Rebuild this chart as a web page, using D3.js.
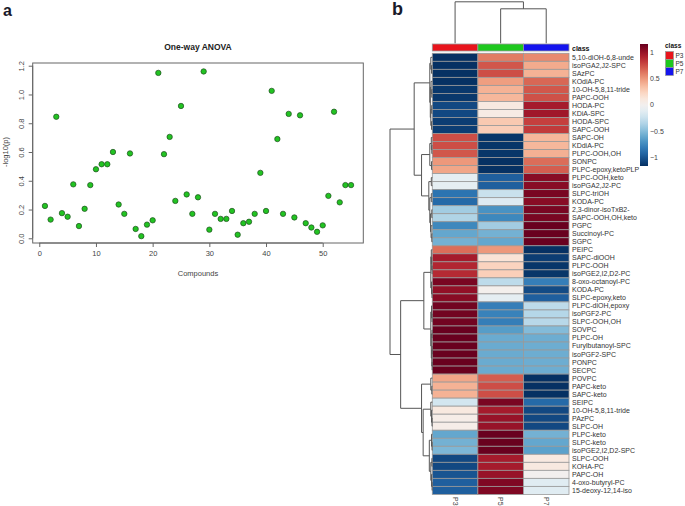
<!DOCTYPE html>
<html lang="en">
<head>
<meta charset="UTF-8">
<title>ANOVA and heatmap</title>
<script src="https://d3js.org/d3.v7.min.js"></script>
<style>
body { margin: 0; background: #fff; }
svg text { font-family: "Liberation Sans", Arial, sans-serif; fill: #333; }
</style>
</head>
<body>
<div id="container"></div>
<script>
// ---- data ----
// -log10(p) for compounds 1..55
const anovaP = [0.225, 0.13, 0.845, 0.175, 0.15, 0.375, 0.085, 0.205, 0.37, 0.48,
  0.515, 0.515, 0.60, 0.235, 0.17, 0.59, 0.065, 0.015, 0.095, 0.125,
  1.15, 0.585, 0.705, 0.26, 0.92, 0.305, 0.17, 0.285, 1.16, 0.06,
  0.17, 0.135, 0.135, 0.19, 0.025, 0.105, 0.115, 0.17, 0.455, 0.19,
  1.025, 0.69, 0.17, 0.865, 0.145, 0.855, 0.105, 0.075, 0.045, 0.09,
  0.295, 0.88, 0.25, 0.37, 0.37];
const xTicks = [0, 10, 20, 30, 40, 50];
const yTicks = [0, 0.2, 0.4, 0.6, 0.8, 1.0, 1.2];

const rowNames = ["5,10-diOH-6,8-unde", "isoPGA2,J2-SPC", "SAzPC", "KOdiA-PC", "10-OH-5,8,11-tride",
  "PAPC-OOH", "HODA-PC", "KDiA-SPC", "HODA-SPC", "SAPC-OOH",
  "SAPC-OH", "KDdiA-PC", "PLPC-OOH,OH", "SONPC", "PLPC-epoxy,ketoPLP",
  "PLPC-OOH,keto", "isoPGA2,J2-PC", "SLPC-triOH", "KODA-PC", "2,3-dinor-isoTxB2-",
  "SAPC-OOH,OH,keto", "PGPC", "Succinoyl-PC", "SGPC", "PEIPC",
  "SAPC-diOOH", "PLPC-OOH", "isoPGE2,I2,D2-PC", "8-oxo-octanoyl-PC", "KODA-PC",
  "SLPC-epoxy,keto", "PLPC-diOH,epoxy", "isoPGF2-PC", "SLPC-OOH,OH", "SOVPC",
  "PLPC-OH", "Furylbutanoyl-SPC", "isoPGF2-SPC", "PONPC", "SECPC",
  "POVPC", "PAPC-keto", "SAPC-keto", "SEIPC", "10-OH-5,8,11-tride",
  "PAzPC", "SLPC-OH", "PLPC-keto", "SLPC-keto", "isoPGE2,I2,D2-SPC",
  "SLPC-OOH", "KOHA-PC", "PAPC-OH", "4-oxo-butyryl-PC", "15-deoxy-12,14-iso"];

const classes = ["P3", "P5", "P7"];
const classColors = ["#e8141c", "#1ec81e", "#1414ee"];

// row-scaled values per class
const valP3 = [-1.15, -1.15, -1.15, -1.15, -1.12, -1.12, -1.05, -1.05, -1.1, -1.1,
  0.75, 0.75, 0.72, 0.5, 0.45, -0.1, -0.1, -0.85, -0.9, -0.4,
  -0.35, -0.75, -0.6, -0.55, 0.65, 0.95, 0.9, 0.88, 1.1, 1.02,
  1.05, 1.12, 1.12, 1.12, 1.15, 1.15, 1.15, 1.15, 1.15, 1.15,
  0.45, 0.4, 0.4, -0.2, 0.1, 0.05, 0.05, -0.6, -0.55, -0.52,
  -1.05, -1.05, -1.0, -0.95, -0.95];
const valP5 = [0.6, 0.72, 0.75, 0.48, 0.4, 0.38, 0.1, 0.08, 0.3, 0.28,
  -1.13, -1.13, -1.13, -1.15, -1.15, -0.95, -0.95, -0.25, -0.15, -0.7,
  -0.75, -0.4, -0.55, -0.6, 0.5, 0.15, 0.25, 0.27, -0.3, 0.02,
  -0.1, -0.8, -0.78, -0.8, -0.65, -0.58, -0.58, -0.58, -0.58, -0.58,
  0.7, 0.75, 0.75, 1.1, 0.95, 1.0, 1.0, 1.15, 1.15, 1.15,
  0.95, 0.95, 1.0, 1.08, 1.08];
const valP7 = [0.55, 0.43, 0.4, 0.67, 0.72, 0.74, 0.95, 0.97, 0.8, 0.82,
  0.38, 0.38, 0.41, 0.65, 0.7, 1.05, 1.05, 1.1, 1.05, 1.1,
  1.1, 1.15, 1.15, 1.15, -1.15, -1.1, -1.13, -1.13, -0.8, -1.04,
  -0.95, -0.3, -0.33, -0.32, -0.5, -0.57, -0.57, -0.57, -0.57, -0.57,
  -1.15, -1.15, -1.15, -0.9, -1.05, -1.05, -1.05, -0.55, -0.6, -0.63,
  0.1, 0.1, 0.0, -0.13, -0.13];
const legendTicks = [-1, -0.5, 0, 0.5, 1];

// dendrograms: [height, left, right], leaves are row / column indices
const rowTree = [8.5,
  [3.64,
    [0.5, [0.3, 0, [0.15, 1, 2]], [0.4, [0.25, 3, [0.1, 4, 5]], [0.3, [0.12, 6, 7], [0.15, 8, 9]]]],
    [2.16,
      [0.5, [0.2, 10, [0.1, 11, 12]], [0.15, 13, 14]],
      [0.7, [0.2, 15, 16], [0.5, [0.2, 17, 18], [0.35, [0.1, 19, 20], [0.25, 21, [0.1, 22, 23]]]]]]],
  [6.36,
    [1.7,
      [0.3, [0.2, 24, [0.12, 25, [0.05, 26, 27]]], [0.15, 28, [0.06, 29, 30]]],
      [0.3, [0.15, 31, [0.06, 32, 33]], [0.2, [0.05, 34, 35], [0.1, [0.03, 36, 37], [0.03, 38, 39]]]]],
    [2.16,
      [0.3, 40, [0.1, 41, 42]],
      [1.84,
        [0.3, 43, [0.15, 44, [0.06, 45, 46]]],
        [0.6, [0.15, 47, [0.05, 48, 49]], [0.3, [0.08, 50, 51], [0.15, 52, [0.04, 53, 54]]]]]]]];
const colTree = [8.3, 0, [6.9, 1, 2]];

// ---- svg ----
const width = 685, height = 506;
const svg = d3.select("#container").append("svg")
  .attr("width", width).attr("height", height);

// panel letters
svg.append("text").attr("x", 3).attr("y", 16).text("a")
  .style("font-size", "16px").style("font-weight", "bold").style("fill", "#1a1a2a");
svg.append("text").attr("x", 392).attr("y", 15).text("b")
  .style("font-size", "18px").style("font-weight", "bold").style("fill", "#1a1a2a");

// ---- panel a: scatter ----
const x = d3.scaleLinear().domain([-1.16, 57.16]).range([32.7, 363.3]);
const y = d3.scaleLinear().domain([-0.0327, 1.2188]).range([243, 63]);
const a = svg.append("g");

a.append("rect")
  .attr("x", x.range()[0]).attr("y", y.range()[1])
  .attr("width", x.range()[1] - x.range()[0])
  .attr("height", y.range()[0] - y.range()[1])
  .attr("fill", "none").attr("stroke", "#666").attr("stroke-width", 1);

const xAxis = a.append("g").attr("transform", `translate(0,${y.range()[0]})`)
  .call(d3.axisBottom(x).tickValues(xTicks).tickSize(4).tickPadding(4));
xAxis.select(".domain").remove();
xAxis.append("line").attr("x1", x(0)).attr("x2", x(50)).attr("stroke", "#666");
xAxis.selectAll("line").attr("stroke", "#666");
xAxis.selectAll("text").style("font-size", "7.5px").style("fill", "#444");

const yAxis = a.append("g").attr("transform", `translate(${x.range()[0]},0)`)
  .call(d3.axisLeft(y).tickValues(yTicks).tickSize(4).tickFormat(d3.format(".1f")));
yAxis.select(".domain").remove();
yAxis.append("line").attr("y1", y(0)).attr("y2", y(1.2)).attr("stroke", "#666");
yAxis.selectAll("line").attr("stroke", "#666");
yAxis.selectAll(".tick text")
  .attr("x", 0).attr("y", -9).attr("dy", null)
  .attr("transform", "rotate(-90)")
  .attr("text-anchor", "middle")
  .style("font-size", "7.5px").style("fill", "#444");

a.append("text").attr("x", 198).attr("y", 50).attr("text-anchor", "middle")
  .text("One-way ANOVA").style("font-size", "8.5px").style("font-weight", "bold").style("fill", "#222");
a.append("text").attr("x", 198).attr("y", 276).attr("text-anchor", "middle")
  .text("Compounds").style("font-size", "7.5px").style("fill", "#444");
a.append("text").attr("transform", "translate(8,152) rotate(-90)").attr("text-anchor", "middle")
  .text("-log10(p)").style("font-size", "7.5px").style("fill", "#444");

a.selectAll("circle").data(anovaP).join("circle")
  .attr("cx", (d, i) => x(i + 1))
  .attr("cy", d => y(d))
  .attr("r", 2.7)
  .attr("fill", "#22c322")
  .attr("stroke", "#1d4d1d")
  .attr("stroke-width", 0.7);

// ---- panel b: heatmap ----
const hx = d3.scaleBand().domain(classes).range([432.3, 569]);
const hy = d3.scaleBand().domain(d3.range(rowNames.length)).range([53.3, 494.4]);
const color = d3.scaleSequential(t => d3.interpolateRdBu(1 - t)).domain([-1.155, 1.155]);
const values = [valP3, valP5, valP7];
const b = svg.append("g");

const cells = [];
values.forEach((arr, ci) => arr.forEach((v, ri) => cells.push({ c: classes[ci], r: ri, v })));

b.selectAll("rect.cell").data(cells).join("rect")
  .attr("class", "cell")
  .attr("x", d => hx(d.c)).attr("y", d => hy(d.r))
  .attr("width", hx.bandwidth()).attr("height", hy.bandwidth())
  .attr("fill", d => color(d.v))
  .attr("stroke", "#999").attr("stroke-width", 0.8);

// class annotation bar
b.selectAll("rect.cls").data(classes).join("rect")
  .attr("class", "cls")
  .attr("x", d => hx(d)).attr("y", 44)
  .attr("width", hx.bandwidth()).attr("height", 7)
  .attr("fill", (d, i) => classColors[i])
  .attr("stroke", "#999").attr("stroke-width", 0.8);
b.append("text").attr("x", 572).attr("y", 50.5).text("class")
  .style("font-size", "7px").style("font-weight", "bold").style("fill", "#111");

// row labels
b.selectAll("text.row").data(rowNames).join("text")
  .attr("class", "row")
  .attr("x", 572).attr("y", (d, i) => hy(i) + hy.bandwidth() / 2)
  .attr("dy", "0.35em")
  .text(d => d)
  .style("font-size", "7px").style("fill", "#333");

// column labels (rotated)
b.selectAll("text.col").data(classes).join("text")
  .attr("class", "col")
  .attr("transform", d => `translate(${hx(d) + hx.bandwidth() / 2 - 2.5},497) rotate(90)`)
  .text(d => d)
  .style("font-size", "7px").style("fill", "#444");

// dendrograms
function drawTree(tree, leafPos, hScale, toXY) {
  const root = d3.hierarchy(tree, d => Array.isArray(d) ? d.slice(1) : null);
  root.eachAfter(n => {
    n.h = n.children ? n.data[0] : 0;
    n.p = n.children ? d3.mean(n.children, c => c.p) : leafPos(n.data);
  });
  const path = d3.path();
  root.each(n => {
    if (!n.children) return;
    const [c1, c2] = n.children;
    let p = toXY(c1.p, hScale(c1.h));
    path.moveTo(p[0], p[1]);
    p = toXY(c1.p, hScale(n.h)); path.lineTo(p[0], p[1]);
    p = toXY(c2.p, hScale(n.h)); path.lineTo(p[0], p[1]);
    p = toXY(c2.p, hScale(c2.h)); path.lineTo(p[0], p[1]);
  });
  b.append("path").attr("d", path.toString())
    .attr("fill", "none").attr("stroke", "#555").attr("stroke-width", 1);
}
drawTree(rowTree, i => hy(i) + hy.bandwidth() / 2,
  d3.scaleLinear().domain([0, 8.5]).range([432.3, 390]), (p, h) => [h, p]);
drawTree(colTree, i => hx(classes[i]) + hx.bandwidth() / 2,
  d3.scaleLinear().domain([0, 8.3]).range([43.3, 1.8]), (p, h) => [p, h]);

// colour legend
const ly = d3.scaleLinear().domain([-1.155, 1.155]).range([166, 44]);
const grad = svg.append("defs").append("linearGradient")
  .attr("id", "grad").attr("x1", 0).attr("x2", 0).attr("y1", 1).attr("y2", 0);
grad.selectAll("stop").data(d3.range(0, 1.0001, 0.05)).join("stop")
  .attr("offset", d => d)
  .attr("stop-color", d => color(-1.155 + d * 2.31));
b.append("rect").attr("x", 640).attr("y", ly(1.155))
  .attr("width", 8).attr("height", ly(-1.155) - ly(1.155))
  .attr("fill", "url(#grad)");
b.selectAll("text.lg").data(legendTicks).join("text")
  .attr("class", "lg")
  .attr("x", 650).attr("y", d => ly(d)).attr("dy", "0.35em")
  .text(d => d3.format("")(d))
  .style("font-size", "7px").style("fill", "#444");

// class legend
b.append("text").attr("x", 665).attr("y", 48).text("class")
  .style("font-size", "6.5px").style("font-weight", "bold").style("fill", "#111");
b.selectAll("rect.clg").data(classes).join("rect")
  .attr("class", "clg")
  .attr("x", 665.5).attr("y", (d, i) => 51.5 + i * 8)
  .attr("width", 8).attr("height", 8)
  .attr("fill", (d, i) => classColors[i])
  .attr("stroke", "#999").attr("stroke-width", 0.7);
b.selectAll("text.clt").data(classes).join("text")
  .attr("class", "clt")
  .attr("x", 675.5).attr("y", (d, i) => 55.5 + i * 8).attr("dy", "0.35em")
  .text(d => d)
  .style("font-size", "6.5px").style("fill", "#333");
</script>
</body>
</html>
